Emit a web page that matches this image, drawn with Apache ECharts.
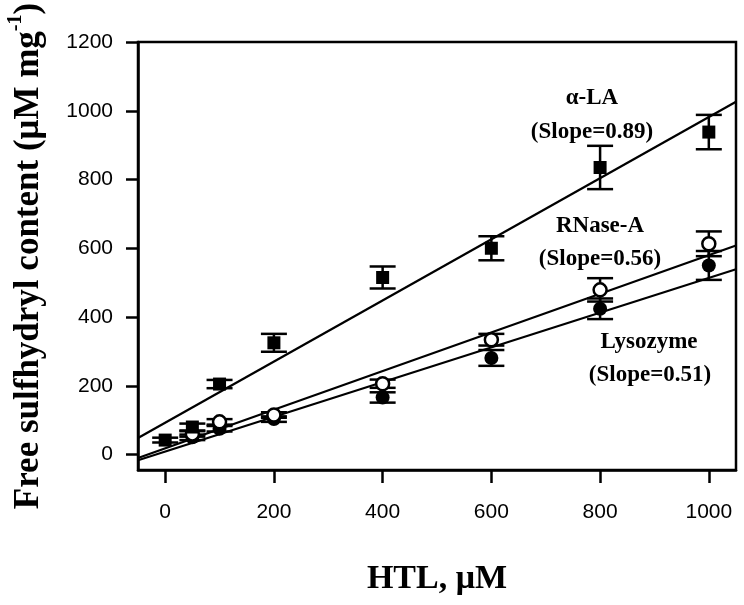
<!DOCTYPE html>
<html>
<head>
<meta charset="utf-8">
<script src="https://cdn.jsdelivr.net/npm/echarts@6/dist/echarts.min.js"></script>
<style>html,body{margin:0;padding:0;background:#fff}#c{width:744px;height:605px}</style>
</head>
<body>
<div id="c"></div>
<script>
// ---- data ----
var xTicks = [0, 200, 400, 600, 800, 1000];
var yTicks = [0, 200, 400, 600, 800, 1000, 1200];

var alaX = [0, 50, 100, 200, 400, 600, 800, 1000];
var alaMean = [42, 80, 205, 325, 515, 600, 835, 938];
var alaErr = [7, 10, 12, 26, 32, 35, 63, 50];

var rnaseX = [50, 100, 200, 400, 600, 800, 1000];
var rnaseMean = [60, 95, 115, 206, 334, 479, 613];
var rnaseErr = [8, 8, 8, 12, 17, 34, 36];

var lysoX = [50, 100, 200, 400, 600, 800, 1000];
var lysoMean = [50, 75, 103, 166, 281, 424, 550];
var lysoErr = [8, 8, 8, 15, 23, 30, 42];

var fitX = [-50, 1050];
var alaFit = [48, 1026];
var rnaseFit = [-10, 608];
var lysoFit = [-16.5, 539];

// ---- helpers ----
function pts(xs, ys) { return xs.map(function (x, i) { return [x, ys[i]]; }); }
function errs(xs, ys, es) { return xs.map(function (x, i) { return [x, ys[i] - es[i], ys[i] + es[i]]; }); }

function errRender(params, api) {
  var x = api.value(0);
  var lo = api.coord([x, api.value(1)]);
  var hi = api.coord([x, api.value(2)]);
  var hw = 13;
  var st = { stroke: '#000', lineWidth: 2.5 };
  return {
    type: 'group',
    children: [
      { type: 'line', shape: { x1: lo[0], y1: lo[1], x2: hi[0], y2: hi[1] }, style: st },
      { type: 'line', shape: { x1: lo[0] - hw, y1: lo[1], x2: lo[0] + hw, y2: lo[1] }, style: st },
      { type: 'line', shape: { x1: hi[0] - hw, y1: hi[1], x2: hi[0] + hw, y2: hi[1] }, style: st }
    ]
  };
}

function fitLine(ys) {
  return {
    type: 'line', data: pts(fitX, ys), symbol: 'none', silent: true, z: 1,
    lineStyle: { color: '#000', width: 2.2 }, animation: false
  };
}
function errSeries(xs, ys, es) {
  return { type: 'custom', renderItem: errRender, data: errs(xs, ys, es), z: 2, animation: false, silent: true };
}

var serif = 'Liberation Serif, Times New Roman, serif';
var sans = 'Liberation Sans, Arial, Helvetica, sans-serif';
var annStyle = { fontFamily: serif, fontWeight: 'bold', fontSize: 23, fill: '#000', textAlign: 'center', textVerticalAlign: 'middle' };
function ann(text, x, y) { return { type: 'text', x: x, y: y, style: Object.assign({ text: text }, annStyle) }; }
function plain(v) { return String(v); }

var chart = echarts.init(document.getElementById('c'), null, { renderer: 'canvas' });
chart.setOption({
  animation: false,
  backgroundColor: '#fff',
  grid: { left: 138, right: 8, top: 42, bottom: 135, containLabel: false, outerBoundsMode: 'none',
    show: true, borderColor: '#000', borderWidth: 2.5, backgroundColor: 'transparent' },
  xAxis: {
    type: 'value', min: -50, max: 1050,
    name: 'HTL, μM', nameLocation: 'middle', nameGap: 92,
    nameTextStyle: { fontFamily: serif, fontWeight: 'bold', fontSize: 34, color: '#000' },
    axisLine: { show: true, onZero: false, lineStyle: { color: '#000', width: 2.5 } },
    axisTick: { show: true, inside: false, length: 13, customValues: xTicks, lineStyle: { color: '#000', width: 2.5 } },
    axisLabel: { customValues: xTicks, formatter: plain, margin: 32, fontFamily: sans, fontSize: 21, color: '#000' },
    splitLine: { show: false }
  },
  yAxis: {
    type: 'value', min: -45, max: 1200,
    name: '{a|Free sulfhydryl content (μM mg}{s|-1}{a|)}',
    nameLocation: 'middle', nameGap: 92, nameRotate: 90,
    nameTextStyle: {
      fontFamily: serif, fontWeight: 'bold', fontSize: 35, color: '#000',
      rich: {
        a: { fontFamily: serif, fontWeight: 'bold', fontSize: 35, color: '#000', lineHeight: 40, verticalAlign: 'bottom' },
        s: { fontFamily: serif, fontWeight: 'bold', fontSize: 20, color: '#000', lineHeight: 40, verticalAlign: 'top' }
      }
    },
    axisLine: { show: true, onZero: false, lineStyle: { color: '#000', width: 2.5 } },
    axisTick: { show: true, inside: false, length: 12, customValues: yTicks, lineStyle: { color: '#000', width: 2.5 } },
    axisLabel: { customValues: yTicks, formatter: plain, margin: 25, fontFamily: sans, fontSize: 21, color: '#000' },
    splitLine: { show: false }
  },
  graphic: [
    ann('α-LA', 592, 98),
    ann('(Slope=0.89)', 592, 132),
    ann('RNase-A', 600, 226),
    ann('(Slope=0.56)', 600, 259),
    ann('Lysozyme', 649, 342),
    ann('(Slope=0.51)', 650, 375)
  ],
  series: [
    fitLine(alaFit),
    fitLine(rnaseFit),
    fitLine(lysoFit),
    errSeries(alaX, alaMean, alaErr),
    errSeries(lysoX, lysoMean, lysoErr),
    errSeries(rnaseX, rnaseMean, rnaseErr),
    { type: 'scatter', data: pts(lysoX, lysoMean), symbol: 'circle', symbolSize: 14, z: 3,
      itemStyle: { color: '#000', opacity: 1 } },
    { type: 'scatter', data: pts(rnaseX, rnaseMean), symbol: 'circle', symbolSize: 13, z: 4,
      itemStyle: { color: '#fff', borderColor: '#000', borderWidth: 2.5, opacity: 1 } },
    { type: 'scatter', data: pts(alaX, alaMean), symbol: 'rect', symbolSize: 13, z: 5,
      itemStyle: { color: '#000', opacity: 1 } }
  ]
});
</script>
</body>
</html>
